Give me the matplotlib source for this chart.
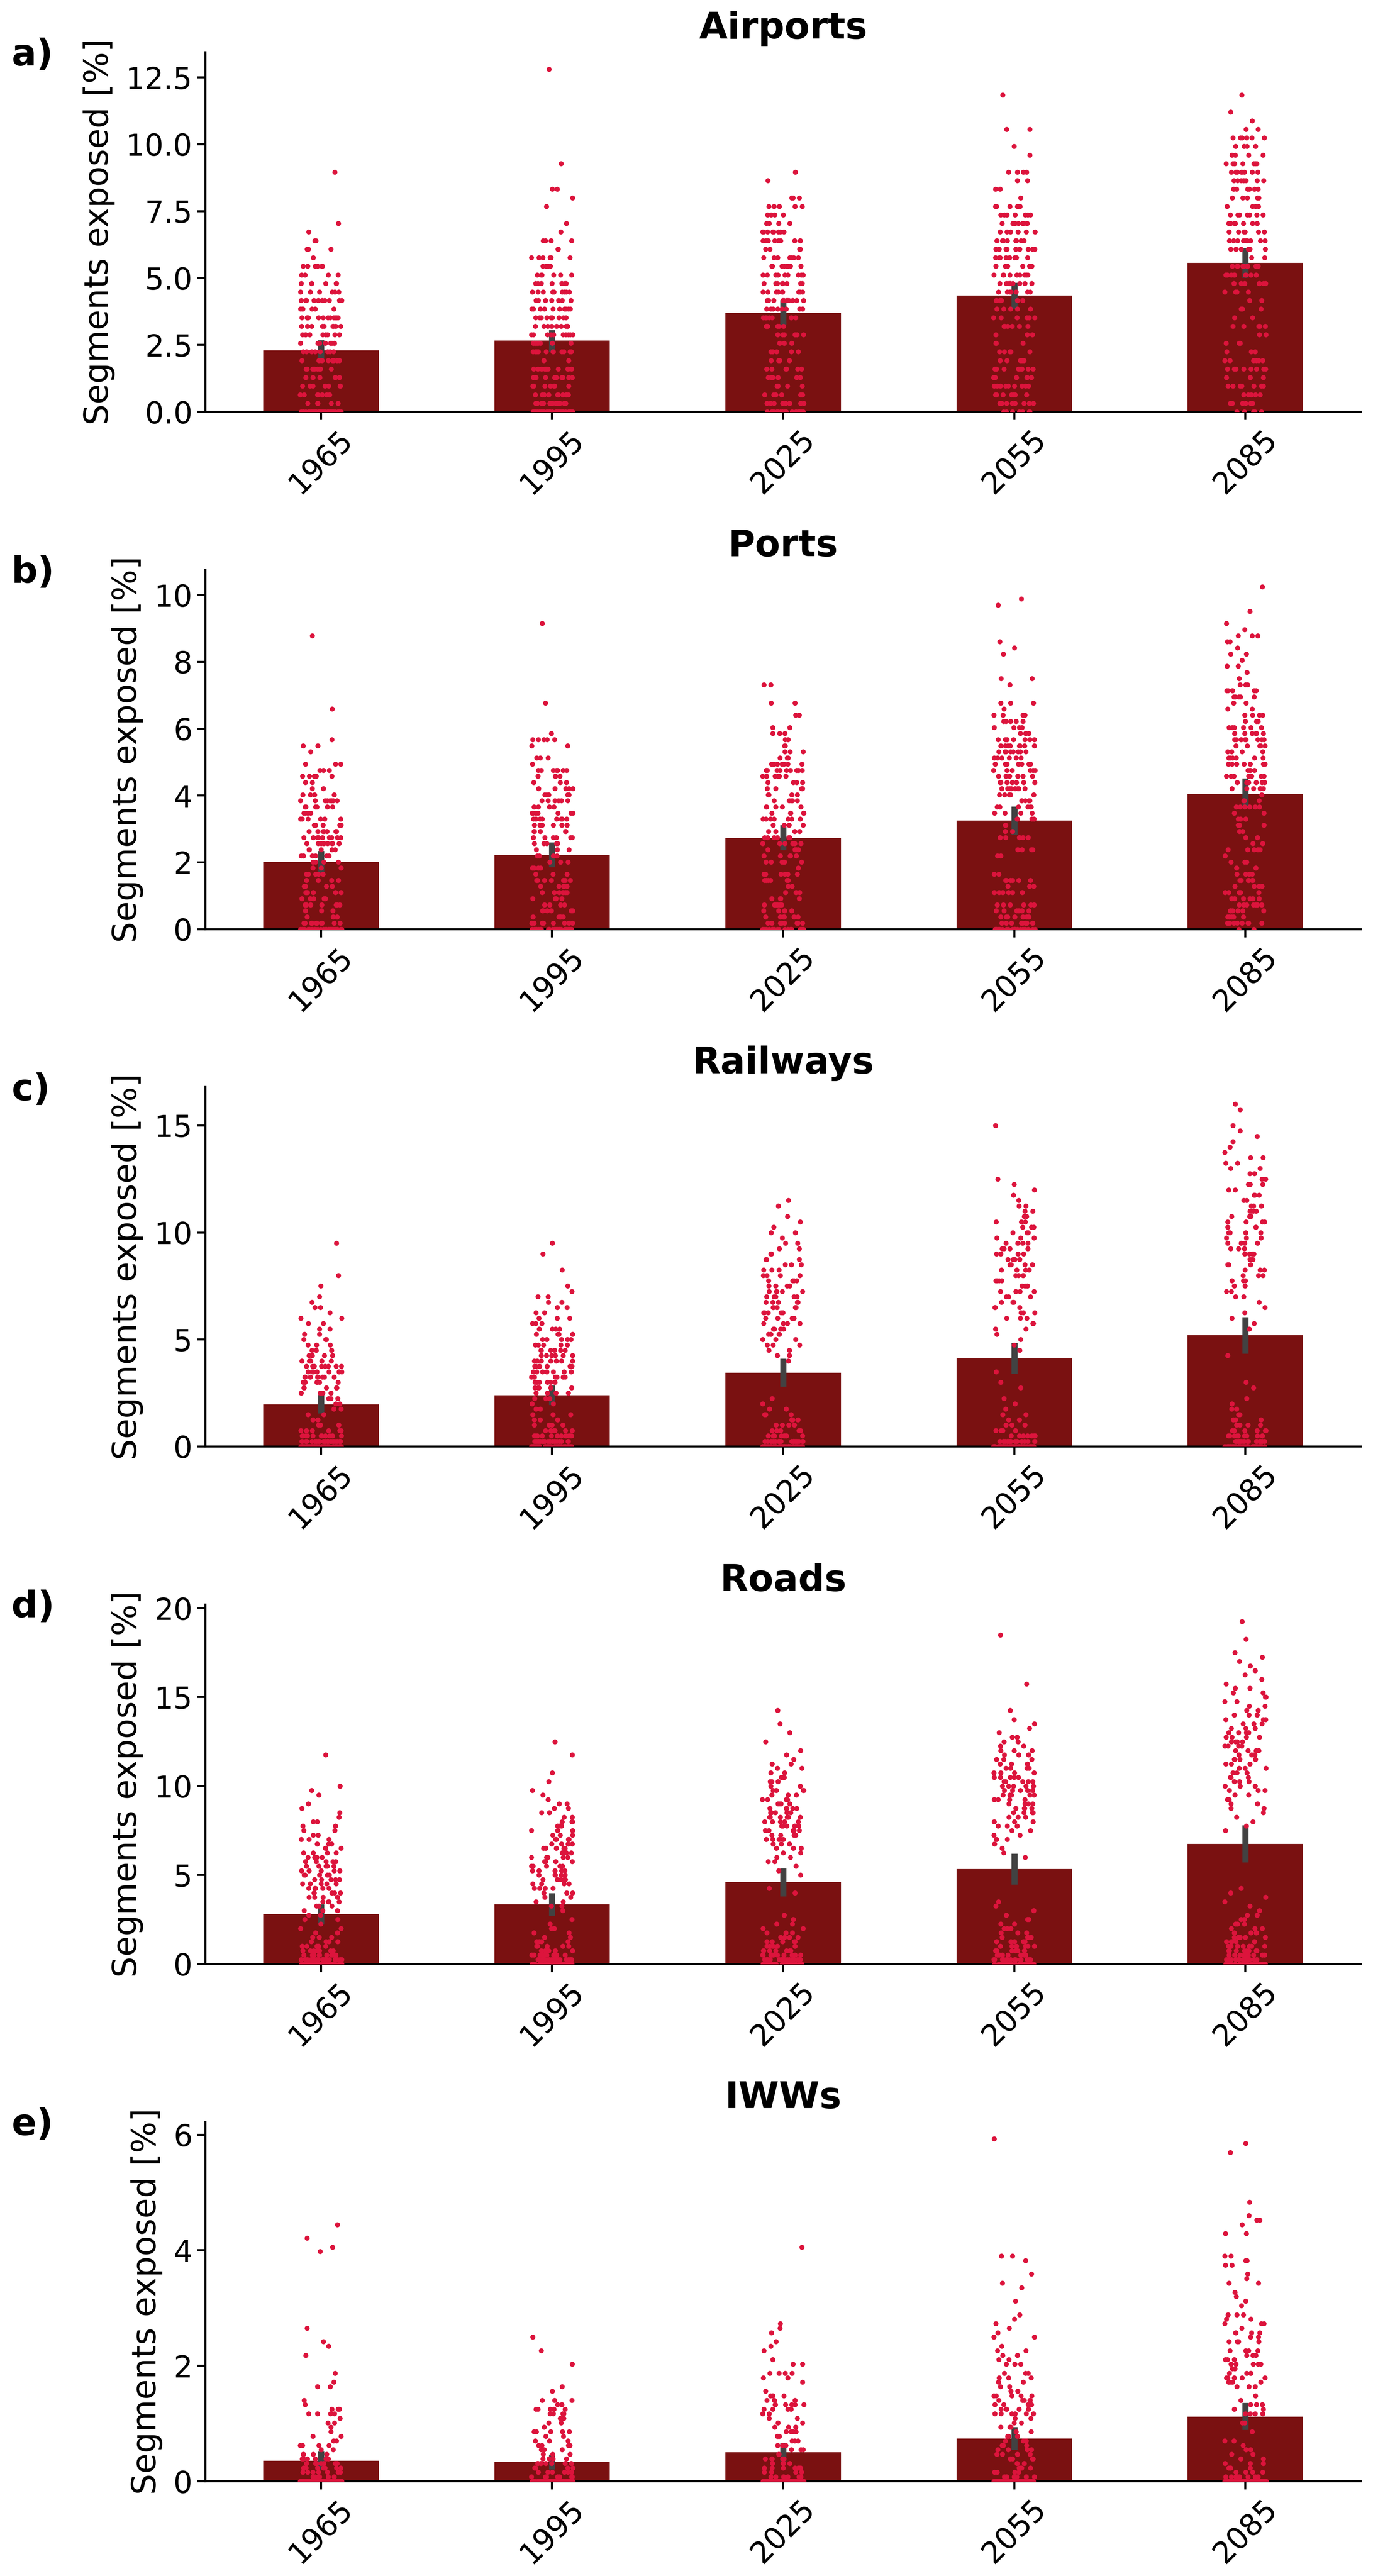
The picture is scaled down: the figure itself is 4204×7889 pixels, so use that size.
import numpy as np
import pandas as pd
import matplotlib
matplotlib.use("Agg")
import matplotlib.pyplot as plt
import seaborn as sns

YEARS = ["1965", "1995", "2025", "2055", "2085"]

# Counts of countries per exposure level; level k means k * STEP percent.
AIR_STEP = 0.32
AIR_1965 = [46, 5, 9, 7, 6, 9, 12, 8, 9, 10, 9, 13, 6, 10, 6, 6, 4, 6, 1, 3, 2, 1, 1, 0, 0, 0, 0, 0, 1]
AIR_1995 = [35, 13, 10, 7, 9, 12, 2, 11, 10, 10, 9, 9, 11, 7, 9, 9, 6, 4, 6, 2, 4, 1, 1, 0, 1, 1, 2, 0, 0, 1,
            0, 0, 0, 0, 0, 0, 0, 0, 0, 0, 1]
AIR_2025 = [20, 10, 8, 4, 6, 6, 4, 5, 3, 6, 5, 9, 9, 11, 9, 8, 10, 9, 7, 4, 10, 8, 4, 4, 5, 3, 0, 1, 1]
AIR_2055 = [7, 8, 7, 9, 6, 9, 6, 5, 3, 3, 6, 6, 5, 6, 8, 9, 10, 7, 9, 9, 8, 6, 8, 7, 6, 1, 2, 2, 4, 0,
            1, 1, 0, 2, 0, 0, 0, 1]
AIR_2085 = [5, 7, 5, 7, 3, 8, 6, 3, 3, 2, 5, 2, 3, 2, 4, 7, 10, 9, 2, 7, 10, 6, 8, 7, 4, 5, 6, 8, 8, 8,
            4, 4, 6, 2, 1, 1, 0, 1]

PORT_STEP = 0.183
PORT_1965 = [42, 10, 3, 3, 7, 6, 7, 5, 4, 5, 3, 4, 7, 5, 9, 9, 7, 6, 7, 4, 7, 8, 4, 2, 2, 5, 3, 3, 0, 1,
             2, 1, 0, 0, 0, 0, 1, 0, 0, 0, 0, 0, 0, 0, 0, 0, 0, 0, 1]
PORT_1995 = [35, 9, 7, 6, 4, 4, 7, 5, 7, 3, 4, 4, 4, 3, 6, 6, 5, 7, 8, 7, 4, 6, 5, 5, 3, 4, 7, 1, 3, 0,
             2, 5, 1, 0, 0, 0, 0, 1, 0, 0, 0, 0, 0, 0, 0, 0, 0, 0, 0, 0, 1]
PORT_2025 = [22, 8, 6, 5, 7, 4, 3, 2, 6, 6, 1, 6, 5, 4, 7, 6, 4, 4, 7, 7, 5, 5, 4, 6, 4, 7, 10, 8, 3, 3,
             2, 2, 3, 2, 0, 2, 0, 2, 0, 0, 2]
PORT_2055 = [30, 9, 8, 7, 6, 0, 6, 3, 6, 2, 0, 0, 2, 4, 0, 6, 2, 2, 4, 4, 6, 5, 6, 8, 7, 6, 6, 7, 6, 8,
             8, 8, 4, 4, 5, 4, 1, 3, 0, 0, 1, 2, 0, 0, 0, 1, 1, 1, 0, 0, 0, 0, 0, 1, 1]
PORT_2085 = [2, 9, 6, 6, 7, 6, 5, 4, 6, 4, 2, 3, 1, 5, 2, 2, 2, 3, 4, 2, 6, 3, 1, 6, 6, 7, 5, 7, 6, 4,
             5, 9, 6, 6, 3, 4, 2, 2, 5, 6, 3, 1, 1, 2, 1, 2, 1, 2, 3, 1, 1, 0, 1, 0, 0, 0, 1]

RAIL_STEP = 0.25
RAIL_1965 = [52, 25, 12, 6, 3, 2, 2, 2, 2, 3, 5, 6, 7, 8, 8, 8, 6, 5, 4, 3, 3, 2, 2, 2, 2, 1, 2, 1, 1, 0,
             1, 0, 1, 0, 0, 0, 0, 0, 1]
RAIL_1995 = [40, 25, 12, 6, 4, 3, 3, 2, 2, 3, 4, 5, 6, 7, 7, 7, 7, 6, 6, 5, 5, 4, 4, 3, 3, 2, 2, 2, 2, 1,
             1, 0, 0, 1, 0, 0, 1, 0, 1]
RAIL_2025 = [50, 22, 11, 6, 4, 3, 3, 2, 1, 1, 0, 0, 0, 0, 0, 0, 1, 2, 2, 3, 3, 4, 4, 4, 5, 5, 5, 5, 5, 5,
             4, 4, 4, 3, 3, 3, 2, 2, 2, 1, 2, 1, 1, 1, 0, 1, 1]
RAIL_2055 = [55, 20, 8, 5, 3, 2, 2, 1, 1, 1, 0, 1, 1, 0, 1, 0, 0, 0, 1, 1, 1, 1, 2, 2, 3, 3, 3, 3, 3, 4,
             4, 4, 4, 4, 4, 4, 4, 4, 4, 3, 3, 3, 3, 2, 2, 2, 1, 1, 1, 1, 1, 0, 0, 0, 0, 0, 0, 0, 0, 0, 1]
RAIL_2085 = [42, 22, 10, 6, 4, 3, 2, 2, 1, 1, 0, 1, 1, 0, 0, 0, 0, 1, 0, 0, 0, 0, 1, 1, 1, 1, 1, 1, 2, 2,
             2, 3, 3, 3, 3, 3, 4, 3, 4, 3, 4, 3, 4, 3, 4, 3, 2, 3, 2, 3, 2, 2, 2, 2, 2, 1, 1, 1, 1, 1,
             1, 0, 0, 1, 1]

ROAD_STEP = 0.25
ROAD_1965 = [48, 20, 10, 7, 5, 4, 3, 2, 2, 1, 2, 2, 3, 3, 4, 4, 5, 5, 5, 5, 5, 5, 5, 5, 4, 4, 3, 3, 3, 2,
             2, 2, 2, 1, 1, 1, 1, 0, 1, 1, 1, 0, 0, 0, 0, 0, 0, 1]
ROAD_1995 = [40, 20, 10, 7, 5, 4, 3, 2, 2, 1, 1, 0, 1, 2, 2, 3, 3, 4, 4, 5, 5, 5, 5, 5, 5, 4, 5, 4, 4, 4,
             3, 3, 3, 2, 2, 2, 2, 1, 1, 1, 0, 1, 0, 1, 0, 0, 0, 1, 0, 0, 1]
ROAD_2025 = [35, 18, 10, 7, 6, 5, 4, 3, 2, 2, 1, 1, 0, 0, 0, 0, 1, 1, 0, 0, 1, 1, 1, 2, 2, 2, 3, 3, 4, 4,
             5, 6, 5, 6, 5, 5, 5, 4, 4, 4, 3, 3, 3, 2, 2, 2, 1, 1, 1, 0, 1, 0, 1, 0, 1, 0, 0, 1]
ROAD_2055 = [33, 17, 10, 7, 6, 5, 4, 3, 3, 2, 2, 1, 1, 1, 1, 0, 0, 0, 0, 0, 0, 0, 0, 0, 1, 1, 1, 1, 2, 2,
             2, 3, 3, 3, 4, 4, 4, 4, 5, 5, 5, 5, 5, 4, 4, 4, 3, 3, 3, 2, 2, 2, 1, 1, 1, 1, 0, 1, 0, 0,
             0, 0, 0, 1, 0, 0, 0, 0, 0, 0, 0, 0, 0, 0, 1]
ROAD_2085 = [23, 15, 10, 8, 7, 6, 5, 4, 3, 3, 2, 2, 1, 1, 1, 1, 1, 1, 0, 0, 0, 0, 0, 0, 0, 0, 0, 0, 0, 0,
             1, 1, 1, 1, 1, 2, 2, 2, 2, 3, 3, 3, 3, 3, 3, 3, 4, 4, 5, 4, 4, 4, 4, 3, 3, 3, 3, 2, 2, 2,
             2, 2, 2, 1, 1, 1, 1, 1, 1, 1, 1, 0, 0, 1, 0, 0, 0, 1]

IWW_STEP = 0.078
IWW_1965 = [113, 6, 7, 8, 7, 6, 4, 2, 4, 2, 2, 1, 1, 2, 1, 4, 4, 1, 1, 0, 0, 2, 1, 0, 1, 0, 0, 0, 1, 0,
            1, 1, 0, 0, 1, 0, 0, 0, 0, 0, 0, 0, 0, 0, 0, 0, 0, 0, 0, 0, 0, 1, 1, 0, 1, 0, 0, 1]
IWW_1995 = [88, 7, 6, 4, 8, 4, 3, 3, 4, 3, 2, 5, 1, 2, 3, 4, 5, 2, 3, 0, 1, 1, 0, 0, 0, 0, 1, 0, 0, 1,
            0, 0, 1]
IWW_2025 = [89, 8, 4, 7, 4, 5, 2, 3, 4, 3, 3, 4, 3, 2, 2, 2, 4, 6, 3, 4, 1, 0, 1, 2, 4, 0, 2, 1, 0, 1,
            1, 1, 0, 1, 1, 1, 0, 0, 0, 0, 0, 0, 0, 0, 0, 0, 0, 0, 0, 0, 0, 0, 1]
IWW_2055 = [91, 8, 4, 4, 2, 4, 4, 4, 3, 3, 3, 2, 3, 2, 2, 6, 5, 4, 5, 5, 2, 2, 2, 3, 3, 0, 3, 2, 2, 2,
            1, 0, 2, 1, 1, 1, 1, 1, 0, 0, 1, 0, 0, 1, 1, 0, 1, 0, 0, 1, 2, 0, 0, 0, 0, 0, 0, 0, 0, 0,
            0, 0, 0, 0, 0, 0, 0, 0, 0, 0, 0, 0, 0, 0, 0, 0, 1]
IWW_2085 = [92, 10, 4, 5, 3, 2, 2, 2, 1, 2, 0, 1, 0, 2, 0, 4, 2, 3, 1, 1, 0, 3, 5, 5, 4, 3, 5, 3, 3, 4,
            0, 5, 2, 4, 1, 3, 2, 3, 0, 1, 2, 1, 1, 0, 2, 1, 1, 0, 2, 2, 2, 0, 0, 0, 0, 2, 0, 1, 2, 1,
            0, 0, 1, 0, 0, 0, 0, 0, 0, 0, 0, 0, 0, 1, 0, 1]

PANELS = [
    ("a)", "Airports", AIR_STEP, [AIR_1965, AIR_1995, AIR_2025, AIR_2055, AIR_2085]),
    ("b)", "Ports", PORT_STEP, [PORT_1965, PORT_1995, PORT_2025, PORT_2055, PORT_2085]),
    ("c)", "Railways", RAIL_STEP, [RAIL_1965, RAIL_1995, RAIL_2025, RAIL_2055, RAIL_2085]),
    ("d)", "Roads", ROAD_STEP, [ROAD_1965, ROAD_1995, ROAD_2025, ROAD_2055, ROAD_2085]),
    ("e)", "IWWs", IWW_STEP, [IWW_1965, IWW_1995, IWW_2025, IWW_2055, IWW_2085]),
]

W, H, DPI = 4204, 7889, 300
BAR = "darkred"
DOT = "crimson"


def expand(counts, step):
    counts = np.asarray(counts)
    return np.repeat(np.arange(counts.size) * step, counts)


def main():
    fig = plt.figure(figsize=(W / DPI, H / DPI), dpi=DPI)
    fig.patch.set_facecolor("white")
    np.random.seed(7)

    for i, (letter, title, step, groups) in enumerate(PANELS):
        top = 160 + 1584.5 * i
        ax = fig.add_axes([629 / W, 1 - (top + 1101) / H, 3538 / W, 1101 / H])

        values = [expand(g, step) for g in groups]
        frame = pd.DataFrame({
            "year": np.concatenate([[y] * v.size for y, v in zip(YEARS, values)]),
            "value": np.concatenate(values),
        })

        sns.barplot(data=frame, x="year", y="value", order=YEARS, color=BAR,
                    width=0.5, errorbar=("ci", 95), seed=i,
                    err_kws={"color": ".26", "linewidth": 4.5}, ax=ax)
        sns.stripplot(data=frame, x="year", y="value", order=YEARS, color=DOT,
                      size=3.7, jitter=0.09, linewidth=0, ax=ax)

        ax.set_title(title, fontsize=27, fontweight="bold", pad=10)
        ax.set_xlabel("")
        ax.set_ylabel("Segments exposed [%]", fontsize=24.5, labelpad=8)
        ax.tick_params(axis="both", labelsize=22, length=6, width=1.5)
        ax.tick_params(axis="x", labelrotation=45)
        for side in ("top", "right"):
            ax.spines[side].set_visible(False)
        for side in ("left", "bottom"):
            ax.spines[side].set_linewidth(1.5)

        fig.text(35 / W, 1 - (200 + 1584.5 * i) / H, letter, fontsize=27,
                 fontweight="bold", ha="left", va="baseline")

    fig.savefig("out.png", dpi=DPI, facecolor="white")
    plt.close(fig)


if __name__ == "__main__":
    main()
